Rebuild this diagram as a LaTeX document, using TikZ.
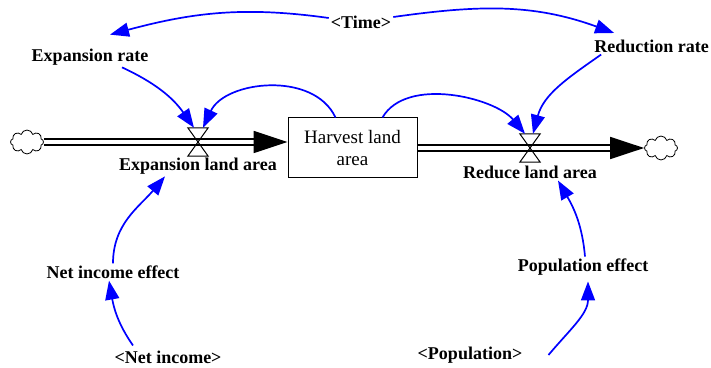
\documentclass[tikz,border=0pt]{standalone}
\usepackage{fontspec}
\setmainfont{Liberation Serif}
\usepackage{xcolor}
\usepackage{tikz}
\usetikzlibrary{arrows.meta}
\usetikzlibrary{shapes.symbols}

\begin{document}
\begin{tikzpicture}[x=1pt, y=1pt,
    lab/.style={font=\fontsize{18}{20}\selectfont\bfseries, inner sep=2pt},
    link/.style={draw=blue, line width=1.7pt, -{Triangle[length=19pt,width=14pt]}},
    pipe/.style={line width=1.8pt, double=white, double distance=3.5pt, -{Triangle[length=34pt,width=22pt]}},
    cloudy/.style={cloud, cloud puffs=8, aspect=1.4, draw, line width=0.8pt, minimum width=33pt, minimum height=24pt, inner sep=0pt},
    valve/.style={minimum width=20pt, minimum height=28pt, inner sep=0pt},
    stock/.style={draw, line width=1pt, minimum width=129pt, minimum height=60pt, align=center, font=\fontsize{19}{22}\selectfont}]

    \useasboundingbox (0,0) rectangle (711,367);

    % stock and flows
    \node[stock] (box) at (352.5,219) {Harvest land\\area};
    \node[cloudy] (lcloud) at (27,225) {};
    \node[cloudy] (rcloud) at (661,219) {};
    \node[valve] (lval) at (198,225) {};
    \node[valve] (rval) at (530,219) {};
    \node[lab] (explabel) at (198,201) {Expansion land area};
    \node[lab] (redlabel) at (530,195) {Reduce land area};

    \draw[pipe] (lcloud.east) -- (lcloud -| box.west);
    \draw[pipe] (box.east) -- (rcloud.west);
    \draw[line width=1pt] (lval.north west) -- (lval.north east) -- (lval.south west) -- (lval.south east) -- cycle;
    \draw[line width=1pt] (rval.north west) -- (rval.north east) -- (rval.south west) -- (rval.south east) -- cycle;

    % auxiliaries
    \node[lab] (time) at (361,345) {<Time>};
    \node[lab] (exprate) at (90,310) {Expansion rate};
    \node[lab, anchor=east] (redrate) at (711,321) {Reduction rate};
    \node[lab] (nieff) at (113,95) {Net income effect};
    \node[lab] (niin) at (168,10) {<Net income>};
    \node[lab] (popeff) at (583,100) {Population effect};
    \node[lab] (popin) at (470,12) {<Population>};

    \draw[link] ([yshift=4pt]time.west) to[out=172,in=15] ([shift={(20,12)}]exprate.north);
    \draw[link] ([yshift=5pt]time.east) to[out=8,in=160] ([shift={(22,13)}]redrate.west);
    \draw[link] ([xshift=32pt]exprate.south) to[out=-25,in=125] ([xshift=-4pt]lval.north);
    \draw[link] ([xshift=-17pt]box.north) to[out=115,in=65] ([xshift=5pt]lval.north);
    \draw[link] ([xshift=30pt]box.north) to[out=60,in=130,looseness=0.85] ([xshift=-5pt]rval.north);
    \draw[link] ([xshift=9pt]redrate.south west) to[out=-145,in=75] ([xshift=3pt]rval.north);
    \draw[link] ([shift={(-35,3)}]niin.north) to[out=125,in=-80] ([xshift=-4pt]nieff.south);
    \draw[link] (nieff.north) to[out=90,in=-130] ([xshift=-33pt]explabel.south);
    \draw[link] ([xshift=24pt]popin.east) to[out=50,in=-90] ([shift={(5,-4)}]popeff.south);
    \draw[link] ([xshift=2pt]popeff.north) to[out=95,in=-60] ([xshift=28pt]redlabel.south);

\end{tikzpicture}
\end{document}
